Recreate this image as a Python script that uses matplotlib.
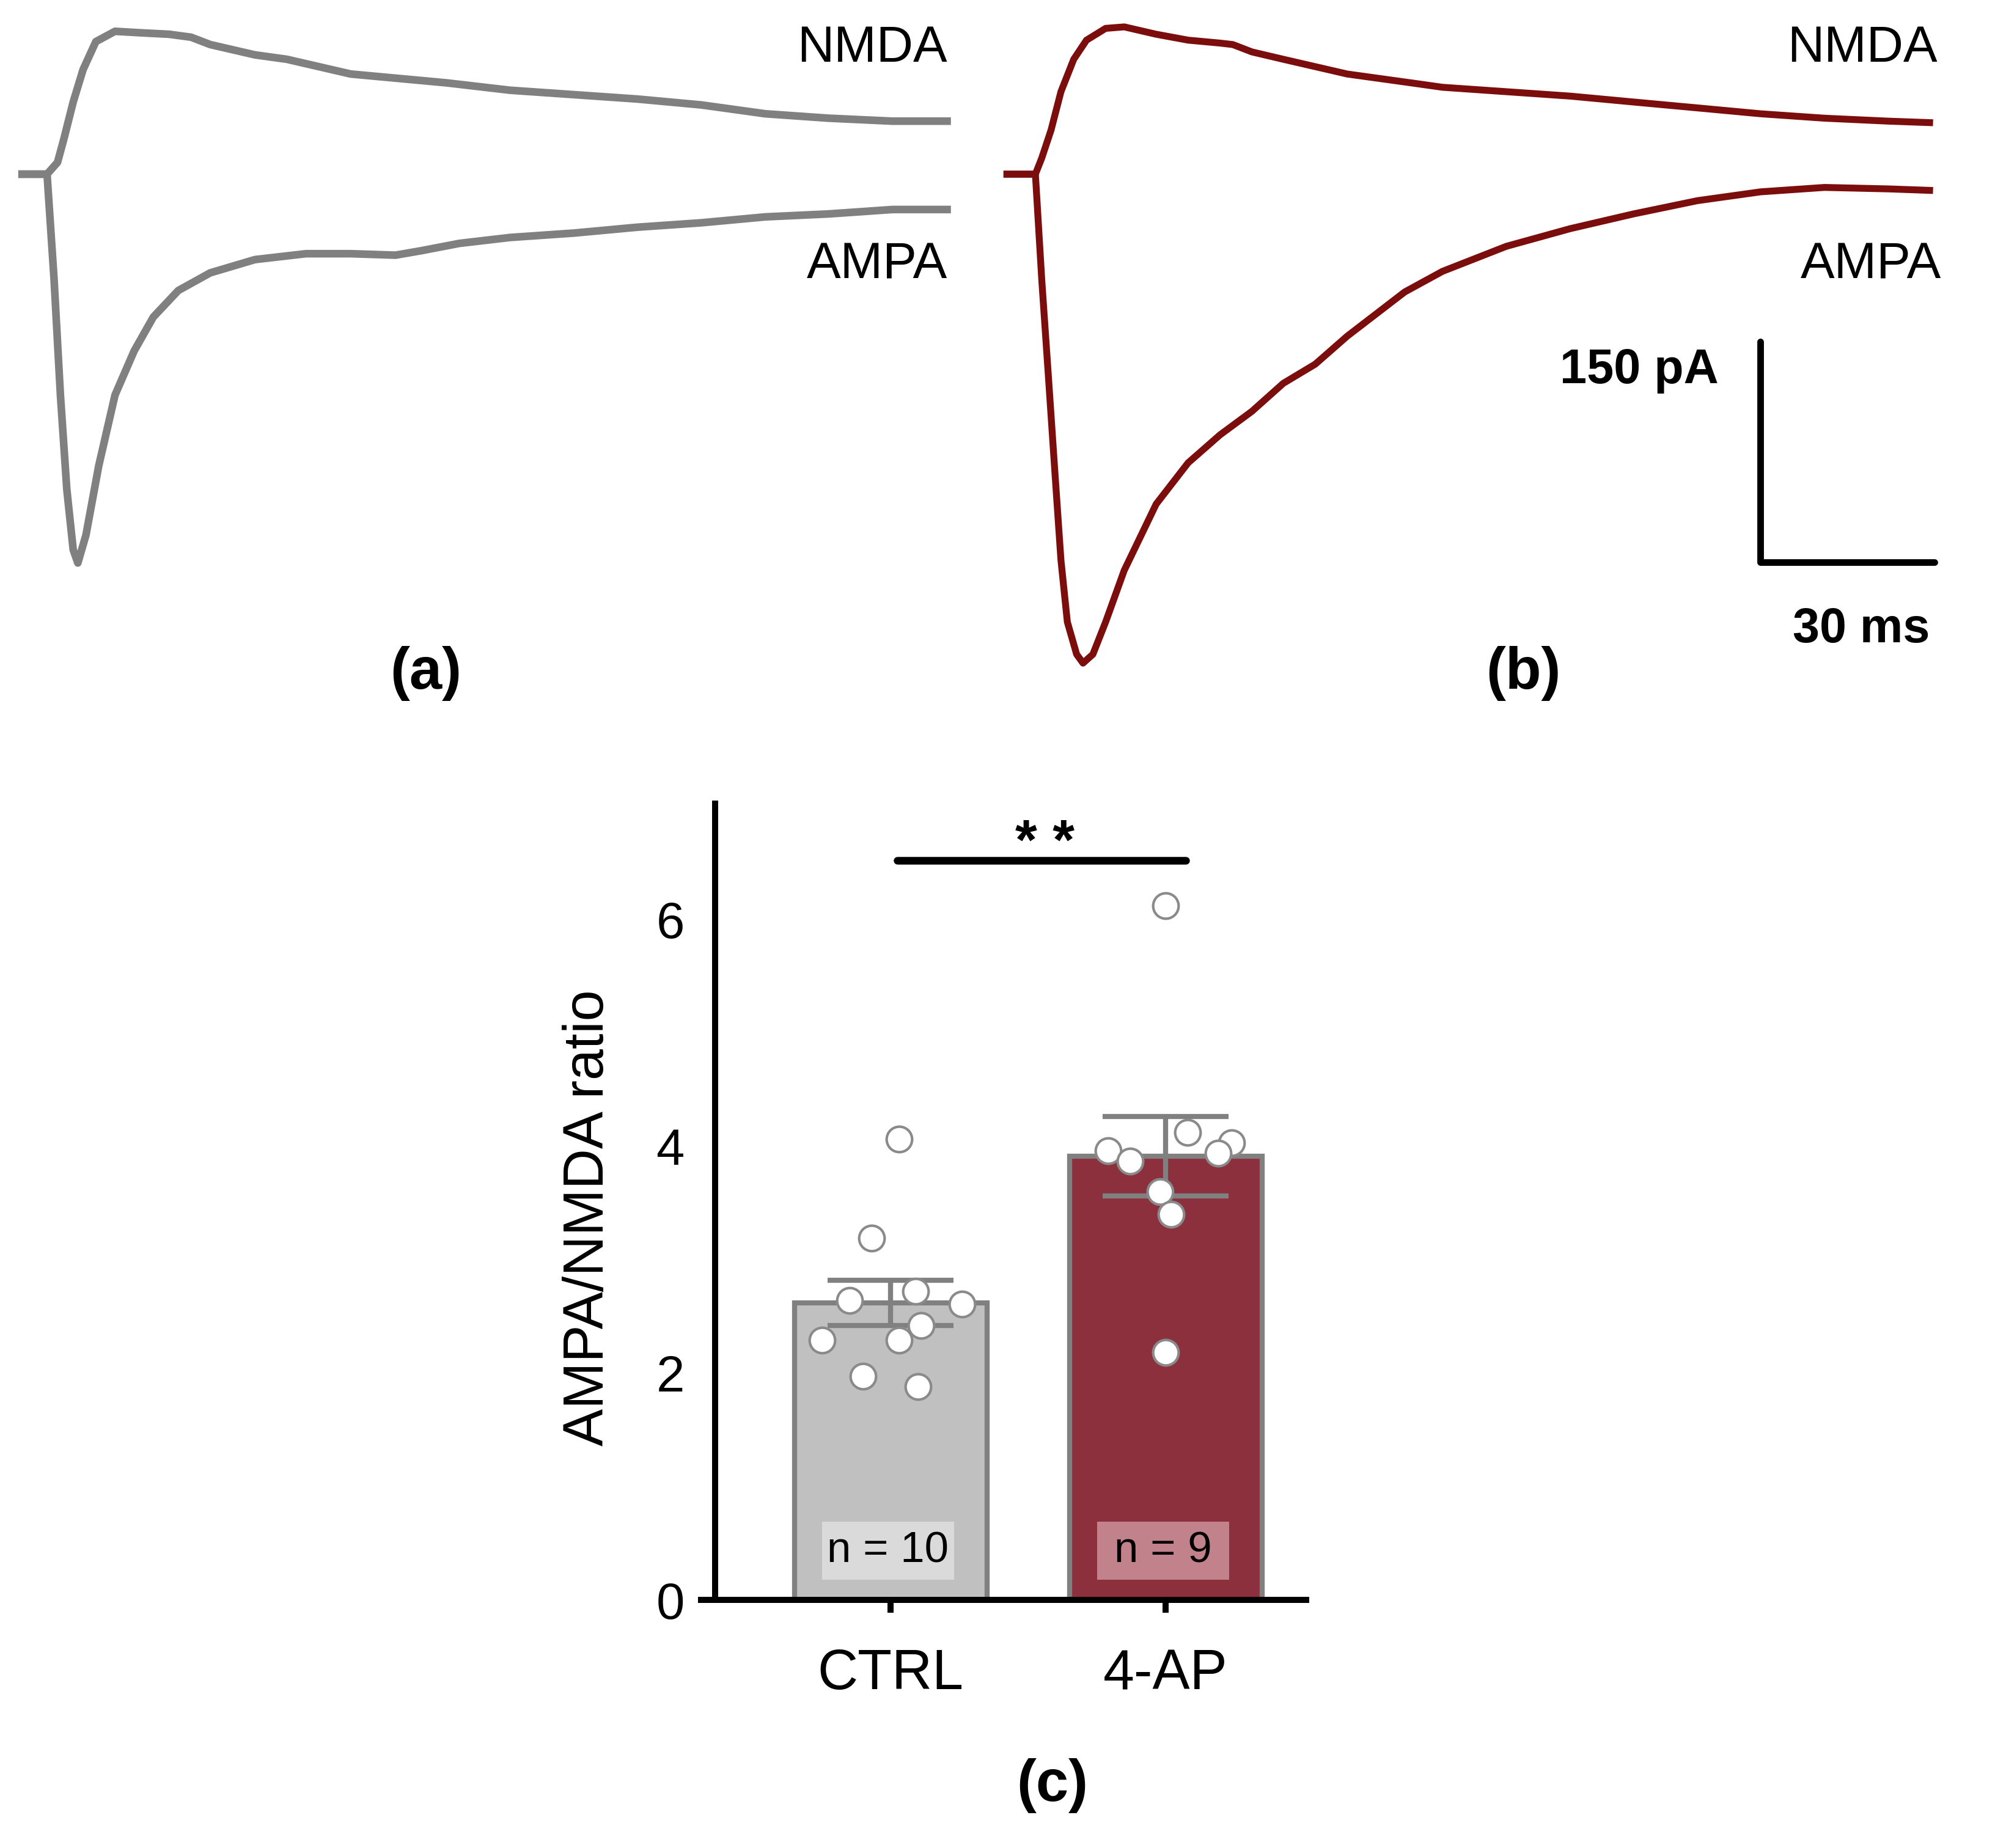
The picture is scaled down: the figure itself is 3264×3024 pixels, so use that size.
import matplotlib.pyplot as plt
from matplotlib.patches import Rectangle

plt.rcParams['font.family'] = ['Liberation Sans', 'DejaVu Sans']

# --- traces (time in ms from stimulus, current in pA) ---
ctrl_ampa_t = [-4.3, 0.0, 1.2, 2.3, 3.4, 4.5, 5.3, 6.7, 8.9, 11.7, 15.0, 18.3, 22.6, 28.1, 35.8,
               44.6, 52.3, 60.0, 64.4, 71.0, 79.7, 90.7, 101.7, 112.7, 123.7, 134.6, 145.6, 155.0]
ctrl_ampa_i = [0, 0, -71, -150, -214, -255, -264, -245, -198, -150, -120, -97, -79, -67, -58,
               -54, -54, -55, -52, -47, -43, -40, -36, -33, -29, -27, -24, -24]
ctrl_nmda_t = [-4.3, 0.0, 1.8, 2.9, 4.5, 6.2, 8.4, 11.7, 16.1, 21.0, 24.8, 28.1, 35.8, 41.3, 46.8,
               52.3, 57.8, 68.8, 79.7, 90.7, 101.7, 112.7, 123.7, 134.6, 145.6, 155.0]
ctrl_nmda_i = [0, 0, 8, 24, 49, 71, 90, 97, 96, 95, 93, 88, 81, 78, 73,
               68, 66, 62, 57, 54, 51, 47, 41, 38, 36, 36]

ap_ampa_t = [-4.9, 0.0, 1.1, 2.2, 3.3, 4.4, 5.5, 7.1, 8.2, 9.9, 12.1, 15.3, 20.8, 26.3, 31.8,
             37.3, 42.7, 48.2, 53.7, 63.6, 70.1, 81.1, 92.1, 103.0, 114.0, 124.9, 135.9, 146.9, 154.0]
ap_ampa_i = [0, 0, -72, -135, -199, -262, -304, -326, -332, -326, -304, -269, -224, -196, -177,
             -161, -142, -129, -110, -80, -66, -49, -37, -27, -18, -12, -9, -10, -11]
ap_nmda_t = [-4.9, 0.0, 1.1, 2.7, 4.4, 6.6, 8.8, 12.1, 15.3, 20.8, 26.3, 31.8, 34.0, 37.3,
             42.7, 48.2, 53.7, 59.2, 64.7, 70.1, 81.1, 92.1, 103.0, 114.0, 124.9, 135.9, 146.9, 154.0]
ap_nmda_i = [0, 0, 11, 30, 56, 78, 91, 99, 100, 95, 91, 89, 88, 83,
             78, 73, 68, 65, 62, 59, 56, 53, 49, 45, 41, 38, 36, 35]

# --- AMPA/NMDA ratio ---
groups = ['CTRL', '4-AP']
means = [2.62, 3.91]
sems = [0.20, 0.35]
n_labels = ['n = 10', 'n = 9']
ctrl_pts = [4.06, 3.19, 2.64, 2.72, 2.61, 2.29, 2.29, 2.42, 1.97, 1.88]
ctrl_dx = [0.03, -0.07, -0.15, 0.09, 0.26, -0.25, 0.03, 0.11, -0.10, 0.10]
ap_pts = [6.12, 3.96, 3.87, 4.12, 4.03, 3.94, 3.60, 3.40, 2.18]
ap_dx = [0.0, -0.21, -0.13, 0.08, 0.24, 0.19, -0.02, 0.02, 0.0]

W, H = 3264, 3024
GRAY = '#808080'
RED = '#7b0d0d'


def px(x, y):
    return x / W, 1 - y / H


fig = plt.figure(figsize=(W / 300, H / 300), dpi=300)

# trace panels: 9.5 px per ms, 2.41 px per pA, baseline at y=285 px
def trace_ax(x0, x1, t_origin_px):
    ax = fig.add_axes([x0 / W, 1 - 1200 / H, (x1 - x0) / W, 1200 / H])
    ax.set_xlim((x0 - t_origin_px) / 9.5, (x1 - t_origin_px) / 9.5)
    ax.set_ylim((285 - 1200) / 2.41, 285 / 2.41)
    ax.axis('off')
    return ax

ax_a = trace_ax(0, 1632, 77)
ax_a.plot(ctrl_nmda_t, ctrl_nmda_i, color=GRAY, lw=3.0, solid_joinstyle='round', clip_on=False)
ax_a.plot(ctrl_ampa_t, ctrl_ampa_i, color=GRAY, lw=3.0, solid_joinstyle='round', clip_on=False)

ax_b = trace_ax(1632, 3264, 1694)
ax_b.plot(ap_nmda_t, ap_nmda_i, color=RED, lw=2.7, solid_joinstyle='round', clip_on=False)
ax_b.plot(ap_ampa_t, ap_ampa_i, color=RED, lw=2.7, solid_joinstyle='round', clip_on=False)

# scale bar 150 pA / 30 ms
sb_t, sb_i = 124.8, -263.5
ax_b.plot([sb_t, sb_t, sb_t + 30], [sb_i + 150, sb_i, sb_i], color='black', lw=2.6,
          solid_joinstyle='round', solid_capstyle='round', clip_on=False)

for xr, lbl, y in [(1550, 'NMDA', 79), (1550, 'AMPA', 433), (3170, 'NMDA', 79), (3176, 'AMPA', 433)]:
    fig.text(*px(xr, y), lbl, ha='right', va='center', fontsize=20)
fig.text(*px(2812, 607), '150 pA', ha='right', va='center', fontsize=19, fontweight='bold')
fig.text(*px(3045, 1030), '30 ms', ha='center', va='center', fontsize=19, fontweight='bold')
fig.text(*px(697, 1102), '(a)', ha='center', va='center', fontsize=23, fontweight='bold')
fig.text(*px(2492, 1102), '(b)', ha='center', va='center', fontsize=23, fontweight='bold')
fig.text(*px(1722, 2922), '(c)', ha='center', va='center', fontsize=23, fontweight='bold')

# bar panel
ax = fig.add_axes([1147 / W, 1 - 2618 / H, (2137 - 1147) / W, (2618 - 1315) / H])
x = [0, 1]
ax.bar(x, means, width=0.7, color=['#c0c0c0', '#8c303e'], edgecolor=GRAY, linewidth=2.0, zorder=2)
ax.errorbar(x, means, yerr=sems, fmt='none', ecolor=GRAY, elinewidth=2.0, capsize=24.7,
            capthick=2.0, zorder=3)
for xi, pts, dx in [(0, ctrl_pts, ctrl_dx), (1, ap_pts, ap_dx)]:
    ax.plot([xi + d for d in dx], pts, 'o', ms=10, mfc='white', mec='#8a8a8a', mew=1.0,
            zorder=4, clip_on=False)

for xi, lbl, box in [(0, n_labels[0], '#dadada'), (1, n_labels[1], '#c1828b')]:
    ax.add_patch(Rectangle((xi - 0.25, 0.18), 0.48, 0.51, facecolor=box, edgecolor='none', zorder=3))
    ax.text(xi - 0.01, 0.43, lbl, ha='center', va='center', fontsize=17, zorder=4)

# significance
ax.plot([0.024, 1.073], [6.52, 6.52], color='black', lw=3.0, solid_capstyle='round', clip_on=False)
ax.text(0.56, 6.66, '* *', ha='center', va='center', fontsize=22, fontweight='bold')

ax.set_xlim(-0.689, 1.511)
ax.set_ylim(0, 7.02)
ax.spines['top'].set_visible(False)
ax.spines['right'].set_visible(False)
ax.spines['left'].set_position(('data', -0.638))
ax.spines['left'].set_linewidth(2.4)
ax.spines['bottom'].set_linewidth(2.4)
ax.set_yticks([0, 2, 4, 6])
ax.set_xticks(x)
ax.set_xticklabels(groups)
ax.tick_params(axis='y', length=0, pad=12, labelsize=20)
ax.tick_params(axis='x', length=5, width=2.4, pad=14, labelsize=22)
fig.text(*px(963, 1993), 'AMPA/NMDA ratio', rotation=90, ha='center', va='center', fontsize=22)

fig.savefig('out.png', dpi=300)
